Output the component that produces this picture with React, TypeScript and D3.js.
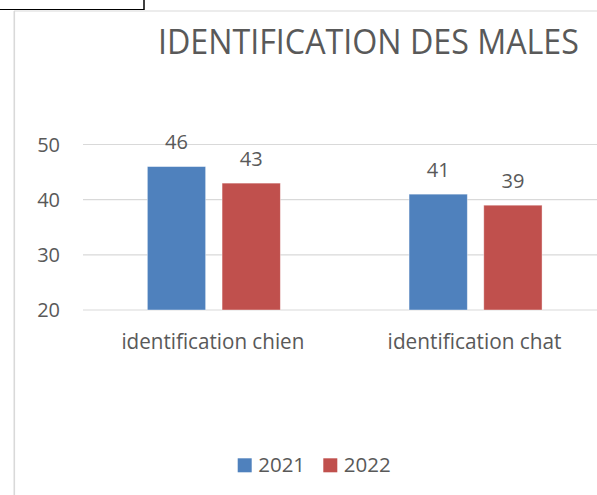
import React from "react";
import * as d3 from "d3";

const categories = ["identification chien", "identification chat"];
const seriesNames = ["2021", "2022"];
const values2021 = [46, 41];
const values2022 = [43, 39];
const yTicks = [20, 30, 40, 50];
const title = "IDENTIFICATION DES MALES";

const W = 597;
const H = 495;
const colors = ["#4f81bd", "#c0504d"];
const textColor = "#595959";
const font = "'Open Sans', 'Noto Sans', sans-serif";

let canvasCtx: CanvasRenderingContext2D | null = null;
function measure(text: string, size: number): number {
  if (!canvasCtx) {
    const c = document.createElement("canvas");
    canvasCtx = c.getContext("2d");
  }
  if (!canvasCtx) return text.length * size * 0.55;
  canvasCtx.font = `${size}px ${font}`;
  return canvasCtx.measureText(text).width;
}

function FitText(props: { text: string; x: number; y: number; size: number; width: number; anchor: "start" | "middle" }) {
  const { text, x, y, size, width, anchor } = props;
  const natural = measure(text, size);
  const s = natural > 0 ? width / natural : 1;
  return (
    <g transform={`translate(${x},${y}) scale(${s},1)`}>
      <text x={0} y={0} textAnchor={anchor} fontFamily={font} fontSize={size} fill={textColor}>
        {text}
      </text>
    </g>
  );
}

export default function App() {
  const series = [values2021, values2022];
  const y = d3.scaleLinear().domain([20, 50]).range([310, 144.5]);
  const x = d3.scaleBand<string>().domain(categories).range([83, 606.4]).paddingInner(0).paddingOuter(0);
  const groupW = 133;
  const xs = d3.scaleBand<string>().domain(seriesNames).range([-groupW / 2, groupW / 2]).paddingInner(0.22).paddingOuter(0);
  const catLabelWidths = [183, 174];

  return (
    <svg width={W} height={H} style={{ position: "absolute", left: 0, top: 0, display: "block", background: "#fff" }}>
      {/* top-left black box fragment */}
      <line x1={0} x2={144} y1={9.5} y2={9.5} stroke="#000" strokeWidth={1.2} />
      <line x1={144} x2={144} y1={0} y2={10} stroke="#000" strokeWidth={1.5} />
      {/* chart frame */}
      <line x1={14} x2={W} y1={11} y2={11} stroke="#d9d9d9" strokeWidth={1.2} />
      <line x1={14.3} x2={14.3} y1={11} y2={H} stroke="#d9d9d9" strokeWidth={1.6} />

      <FitText text={title} x={158} y={54.3} size={35} width={421} anchor="start" />

      {yTicks.map((t) => (
        <g key={t}>
          <line x1={83} x2={W} y1={y(t)} y2={y(t)} stroke="#d9d9d9" strokeWidth={1.2} />
          <text x={60} y={y(t)} dy="0.36em" textAnchor="end" fontFamily={font} fontSize={20} fill={textColor}>
            {t}
          </text>
        </g>
      ))}

      {categories.map((c, ci) => {
        const cx = (x(c) as number) + x.bandwidth() / 2;
        return (
          <g key={c}>
            {series.map((vals, si) => {
              const bx = cx + (xs(seriesNames[si]) as number);
              const top = y(vals[ci]);
              return (
                <g key={si}>
                  <rect x={bx} y={top} width={xs.bandwidth()} height={y(20) - top} fill={colors[si]} stroke="#fff" strokeOpacity={0.5} strokeWidth={0.8} />
                  <text x={bx + xs.bandwidth() / 2} y={top - 17.5} textAnchor="middle" fontFamily={font} fontSize={20} fill={textColor}>
                    {vals[ci]}
                  </text>
                </g>
              );
            })}
            <FitText text={c} x={cx - 1} y={349.3} size={21} width={catLabelWidths[ci]} anchor="middle" />
          </g>
        );
      })}

      {seriesNames.map((s, i) => {
        const lx = [237.7, 323.3][i];
        return (
          <g key={s}>
            <rect x={lx} y={458.3} width={14} height={14} fill={colors[i]} />
            <text x={lx + 20.5} y={472.3} fontFamily={font} fontSize={20.5} fill={textColor}>
              {s}
            </text>
          </g>
        );
      })}
    </svg>
  );
}
